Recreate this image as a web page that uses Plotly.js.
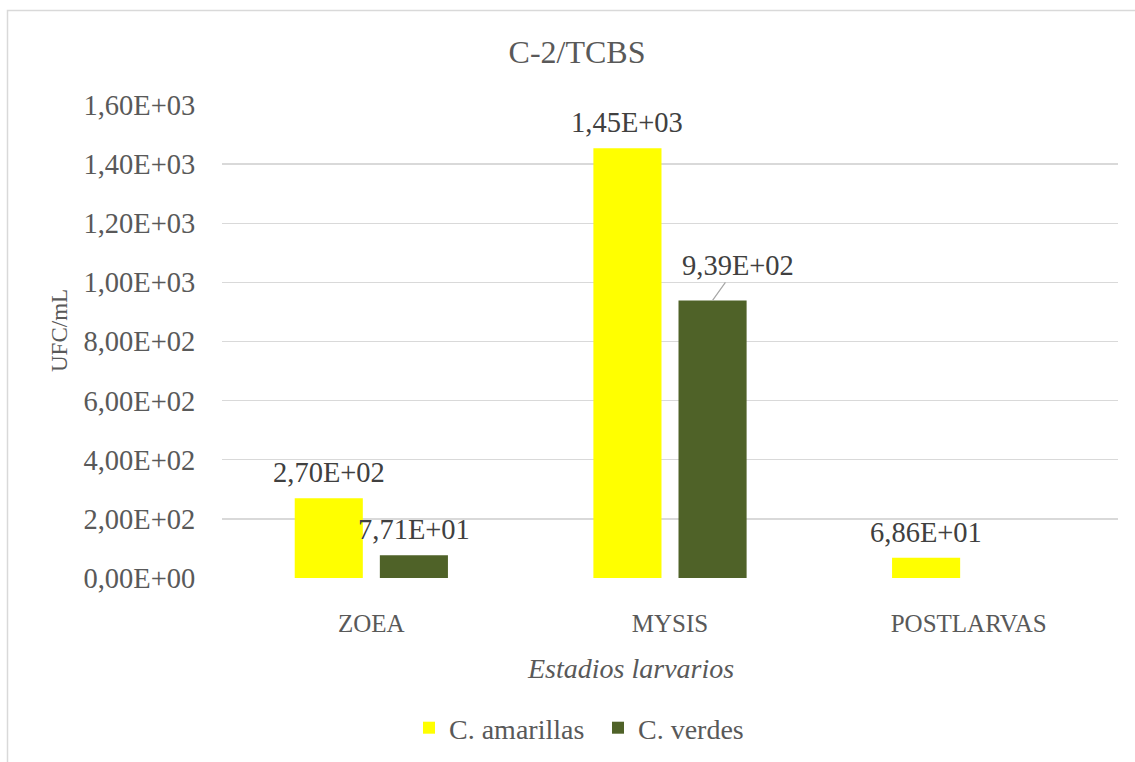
<!DOCTYPE html>
<html>
<head>
<meta charset="utf-8">
<script src="https://cdn.plot.ly/plotly-3.0.1.min.js"></script>
<style>html,body{margin:0;padding:0;background:#fff;}#chart{width:1135px;height:762px;}</style>
</head>
<body>
<div id="chart"></div>
<script>
// ---- data ----
const categories = ['ZOEA', 'MYSIS', 'POSTLARVAS'];
const seriesNames = ['C. amarillas', 'C. verdes'];
const amarillas = [270, 1454, 68.6];
const verdes = [77.1, 939, null];
const yTickValues = [0, 200, 400, 600, 800, 1000, 1200, 1400, 1600];
const chartTitle = 'C-2/TCBS';
const xTitle = 'Estadios larvarios';
const yTitle = 'UFC/mL';

// Excel-style scientific format with comma decimal: 1,45E+03
function fmt(v) {
  if (v === 0) return '0,00E+00';
  let e = Math.floor(Math.log10(Math.abs(v)));
  let s = (v / Math.pow(10, e)).toFixed(2);
  if (Math.abs(parseFloat(s)) >= 10) { e += 1; s = (v / Math.pow(10, e)).toFixed(2); }
  return s.replace('.', ',') + 'E' + (e < 0 ? '-' : '+') + String(Math.abs(e)).padStart(2, '0');
}

const FONT = 'Liberation Serif, Times New Roman, serif';
const GREY = '#595959';
const LABEL = '#404040';
const colors = ['#FFFF00', '#4F6228'];
const NUMSIZE = 28.5;

const traces = [amarillas, verdes].map((vals, i) => ({
  type: 'bar',
  name: seriesNames[i],
  x: categories,
  y: vals,
  marker: { color: colors[i] },
  hoverinfo: 'x+y'
}));

// pixel geometry of plot area
const L = 222, R = 17, T = 105, B = 184, W = 1135, H = 762;
const pw = W - L - R, ph = H - T - B;
const bargap = 0.43, bargroupgap = 0.2;
const catW = pw / categories.length;
const slot = catW * (1 - bargap) / 2;

const annotations = [];
[amarillas, verdes].forEach((vals, si) => {
  vals.forEach((v, ci) => {
    if (v === null || v === undefined) return;
    const shift = (si === 0 ? -1 : 1) * slot / 2;
    const moved = (si === 1 && ci === 1);
    if (moved) {
      annotations.push({
        x: categories[ci], y: v, xref: 'x', yref: 'y', xshift: shift,
        text: fmt(v), showarrow: true, arrowhead: 0, arrowwidth: 1.2,
        arrowcolor: '#a6a6a6', ax: 25, ay: -35, standoff: 0,
        font: { family: FONT, size: NUMSIZE, color: LABEL }
      });
    } else {
      annotations.push({
        x: categories[ci], y: v, xref: 'x', yref: 'y', xshift: shift,
        yanchor: 'bottom', yshift: 8, text: fmt(v), showarrow: false,
        font: { family: FONT, size: NUMSIZE, color: LABEL }
      });
    }
  });
});

annotations.push({
  text: xTitle, xref: 'paper', yref: 'paper',
  x: (630 - L) / pw, y: -(668 - (H - B)) / ph, xanchor: 'center', yanchor: 'middle',
  showarrow: false, font: { family: FONT, size: 28, color: GREY, style: 'italic' }
});
annotations.push({
  text: yTitle, xref: 'paper', yref: 'paper', textangle: -90,
  x: (59 - L) / pw, y: 1 - (331 - T) / ph, xanchor: 'center', yanchor: 'middle',
  showarrow: false, font: { family: FONT, size: 23, color: GREY }
});

const layout = {
  width: W, height: H,
  margin: { l: L, r: R, t: T, b: B, pad: 0 },
  paper_bgcolor: '#fff', plot_bgcolor: '#fff',
  font: { family: FONT, color: GREY, size: 25 },
  title: {
    text: chartTitle, font: { family: FONT, size: 32, color: GREY },
    xref: 'container', yref: 'container', x: 577 / W, xanchor: 'center',
    y: 1 - 52 / H, yanchor: 'middle'
  },
  barmode: 'group', bargap: bargap, bargroupgap: bargroupgap,
  xaxis: {
    type: 'category', showgrid: false, zeroline: false, showline: false,
    ticks: 'outside', ticklen: 23, tickcolor: 'rgba(0,0,0,0)',
    tickfont: { family: FONT, size: 25, color: GREY }
  },
  yaxis: {
    range: [0, 1600], tickvals: yTickValues, ticktext: yTickValues.map(fmt),
    showgrid: true, gridcolor: '#d9d9d9', gridwidth: 1.3, zeroline: false, showline: false,
    ticks: 'outside', ticklen: 20, tickcolor: 'rgba(0,0,0,0)',
    tickfont: { family: FONT, size: NUMSIZE, color: GREY }
  },
  showlegend: true,
  legend: {
    orientation: 'h', xref: 'container', yref: 'container',
    x: 598 / W, xanchor: 'center', y: 1 - 728 / H, yanchor: 'middle',
    entrywidth: 144, entrywidthmode: 'pixels',
    font: { family: FONT, size: 28, color: GREY }, bgcolor: 'rgba(0,0,0,0)'
  },
  shapes: [{
    type: 'rect', xref: 'paper', yref: 'paper',
    x0: (7.5 - L) / pw, x1: (W + 20 - L) / pw,
    y0: -(H + 20 - (H - B)) / ph, y1: 1 + (T - 10.5) / ph,
    line: { color: '#d9d9d9', width: 1.5 }, fillcolor: 'rgba(0,0,0,0)', layer: 'below'
  }],
  annotations: annotations
};

Plotly.newPlot('chart', traces, layout, { displayModeBar: false, staticPlot: true });
</script>
</body>
</html>
